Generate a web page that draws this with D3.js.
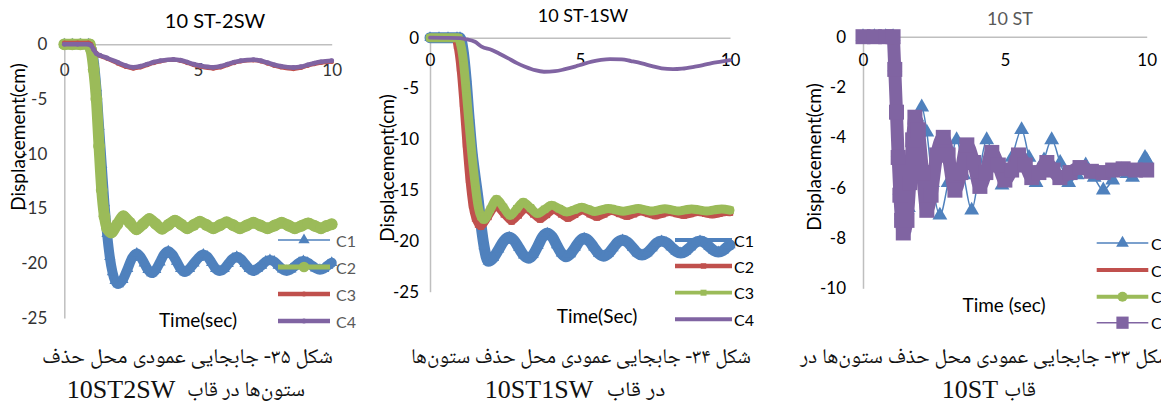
<!DOCTYPE html>
<html>
<head>
<meta charset="utf-8">
<script src="https://cdn.jsdelivr.net/npm/d3@7"></script>
<style>
  body { margin: 0; background: #fff; }
  svg { display: block; }
</style>
</head>
<body>
<svg id="chart" width="1161" height="407"></svg>
<script>
// ---- data: [time (s), displacement (cm)] ----
var xTicks = [0, 5, 10];
var yTicks25 = [0, -5, -10, -15, -20, -25];
var yTicks10 = [0, -2, -4, -6, -8, -10];
var seriesNames = ["C1", "C2", "C3", "C4"];

// 10 ST-2SW
var sw2C1 = [[0,0],[0.3,0],[0.6,0],[0.9,0],[1.0,-0.3],[1.1,-1.5],[1.2,-4.0],[1.3,-7.5],[1.4,-11.0],[1.5,-14.5],[1.6,-17.3],[1.7,-19.4],[1.8,-20.8],[1.9,-21.6],[2.02,-21.9],[2.19,-21.5],[2.37,-20.5],[2.54,-19.5],[2.71,-19.1],[2.85,-19.4],[2.99,-20.0],[3.13,-20.6],[3.27,-20.9],[3.42,-20.6],[3.58,-19.9],[3.73,-19.2],[3.89,-18.9],[4.04,-19.2],[4.2,-19.85],[4.35,-20.5],[4.51,-20.8],[4.68,-20.5],[4.85,-20.0],[5.02,-19.5],[5.2,-19.2],[5.35,-19.4],[5.51,-19.95],[5.66,-20.5],[5.82,-20.7],[5.98,-20.5],[6.13,-20.05],[6.29,-19.6],[6.45,-19.4],[6.6,-19.6],[6.76,-20.05],[6.92,-20.5],[7.07,-20.7],[7.22,-20.5],[7.38,-20.2],[7.53,-19.85],[7.69,-19.7],[7.85,-19.85],[8.0,-20.2],[8.16,-20.55],[8.32,-20.7],[8.47,-20.55],[8.63,-20.25],[8.78,-19.95],[8.94,-19.8],[9.1,-19.95],[9.25,-20.2],[9.4,-20.45],[9.56,-20.6],[9.7,-20.5],[9.85,-20.2],[10.0,-19.95]];
var sw2C2 = [[0,0],[0.3,0],[0.6,0],[0.95,0],[1.0,-0.5],[1.1,-2.3],[1.2,-5.0],[1.3,-9.3],[1.4,-13.3],[1.5,-15.7],[1.6,-16.8],[1.75,-17.2],[1.98,-16.45],[2.21,-15.7],[2.45,-16.3],[2.7,-16.9],[2.94,-16.43],[3.18,-15.95],[3.42,-16.4],[3.66,-16.85],[3.9,-16.48],[4.14,-16.1],[4.37,-16.45],[4.6,-16.8],[4.84,-16.5],[5.07,-16.2],[5.32,-16.5],[5.57,-16.8],[5.82,-16.53],[6.07,-16.25],[6.32,-16.53],[6.57,-16.8],[6.82,-16.55],[7.07,-16.3],[7.33,-16.55],[7.6,-16.8],[7.87,-16.55],[8.13,-16.3],[8.38,-16.55],[8.62,-16.8],[8.87,-16.58],[9.12,-16.35],[9.36,-16.58],[9.6,-16.8],[9.8,-16.6],[10.0,-16.44]];
var sw2C3 = [[0,0.15],[0.5,0.15],[0.9,0.15],[1.0,0],[1.1,-0.45],[1.2,-0.8],[1.33,-1.05],[1.6,-1.3],[2.0,-1.75],[2.3,-2.05],[2.58,-2.2],[2.85,-2.1],[3.1,-1.9],[3.35,-1.7],[3.6,-1.55],[4.08,-1.42],[4.35,-1.5],[4.6,-1.7],[4.85,-1.9],[5.1,-2.05],[5.57,-2.2],[5.85,-2.1],[6.1,-1.9],[6.35,-1.7],[6.6,-1.55],[7.07,-1.45],[7.35,-1.55],[7.6,-1.75],[7.85,-1.95],[8.1,-2.1],[8.57,-2.25],[8.85,-2.15],[9.1,-1.95],[9.35,-1.8],[9.6,-1.68],[10.0,-1.6]];
var sw2C4 = [[0,0],[0.5,0],[0.9,0],[1.0,-0.1],[1.1,-0.5],[1.2,-0.85],[1.33,-1.0],[1.6,-1.25],[2.0,-1.65],[2.3,-1.95],[2.58,-2.1],[2.85,-2.0],[3.1,-1.82],[3.35,-1.62],[3.6,-1.5],[4.08,-1.38],[4.35,-1.45],[4.6,-1.62],[4.85,-1.82],[5.1,-1.96],[5.57,-2.1],[5.85,-2.0],[6.1,-1.82],[6.35,-1.63],[6.6,-1.5],[7.07,-1.4],[7.35,-1.5],[7.6,-1.68],[7.85,-1.87],[8.1,-2.0],[8.57,-2.12],[8.85,-2.05],[9.1,-1.88],[9.35,-1.72],[9.6,-1.6],[10.0,-1.5]];

// 10 ST-1SW
var sw1C1 = [[0,0],[0.3,0],[0.6,0],[0.9,0],[1.0,0],[1.1,-1.2],[1.2,-4.0],[1.3,-7.8],[1.4,-11.2],[1.5,-13.6],[1.6,-15.8],[1.7,-18.4],[1.8,-20.5],[1.94,-22.0],[2.115,-21.66],[2.29,-20.83],[2.465,-19.99],[2.64,-19.65],[2.8,-19.95],[2.96,-20.68],[3.12,-21.4],[3.28,-21.7],[3.44,-21.34],[3.6,-20.48],[3.75,-19.61],[3.91,-19.25],[4.07,-19.59],[4.22,-20.4],[4.38,-21.21],[4.53,-21.55],[4.68,-21.29],[4.84,-20.65],[4.99,-20.01],[5.14,-19.75],[5.3,-20.01],[5.46,-20.63],[5.62,-21.24],[5.78,-21.5],[5.94,-21.27],[6.1,-20.7],[6.26,-20.13],[6.42,-19.9],[6.58,-20.12],[6.75,-20.65],[6.91,-21.18],[7.07,-21.4],[7.23,-21.2],[7.4,-20.7],[7.56,-20.2],[7.72,-20.0],[7.88,-20.18],[8.04,-20.6],[8.2,-21.02],[8.36,-21.2],[8.52,-21.02],[8.68,-20.6],[8.84,-20.18],[9.0,-20.0],[9.15,-20.16],[9.3,-20.55],[9.46,-20.94],[9.61,-21.1],[9.77,-20.94],[9.93,-20.55],[10.0,-20.4]];
var sw1C2 = [[0,0],[0.4,0],[0.83,0],[0.9,-0.8],[1.0,-3.0],[1.1,-6.5],[1.2,-10.5],[1.3,-14.0],[1.4,-16.5],[1.5,-17.8],[1.6,-18.4],[1.7,-18.6],[1.95,-17.65],[2.2,-16.7],[2.46,-17.4],[2.72,-18.1],[2.96,-17.5],[3.2,-16.9],[3.44,-17.4],[3.67,-17.9],[3.9,-17.45],[4.13,-17.0],[4.37,-17.4],[4.6,-17.8],[4.84,-17.43],[5.08,-17.05],[5.32,-17.38],[5.56,-17.7],[5.81,-17.4],[6.06,-17.1],[6.31,-17.35],[6.56,-17.6],[6.8,-17.38],[7.03,-17.15],[7.27,-17.35],[7.51,-17.55],[7.75,-17.38],[7.98,-17.2],[8.22,-17.35],[8.46,-17.5],[8.7,-17.35],[8.93,-17.2],[9.17,-17.33],[9.41,-17.45],[9.65,-17.33],[9.88,-17.2],[10.0,-17.22]];
var sw1C3 = [[0,0],[0.4,0],[0.95,0],[1.0,-0.4],[1.1,-2.0],[1.2,-5.0],[1.3,-8.4],[1.4,-11.6],[1.5,-14.3],[1.6,-16.5],[1.7,-17.6],[1.8,-17.9],[2.01,-16.9],[2.22,-15.9],[2.45,-16.7],[2.67,-17.5],[2.89,-16.85],[3.11,-16.2],[3.35,-16.75],[3.58,-17.3],[3.82,-16.9],[4.06,-16.5],[4.31,-16.83],[4.56,-17.15],[4.81,-16.93],[5.06,-16.7],[5.28,-16.9],[5.5,-17.1],[5.72,-16.95],[5.94,-16.8],[6.19,-16.94],[6.44,-17.08],[6.69,-16.95],[6.94,-16.82],[7.17,-16.94],[7.39,-17.06],[7.61,-16.95],[7.83,-16.84],[8.06,-16.95],[8.28,-17.05],[8.5,-16.95],[8.72,-16.85],[8.97,-16.95],[9.22,-17.05],[9.47,-16.95],[9.72,-16.85],[10.0,-16.98]];
var sw1C4 = [[0,0],[0.5,-0.02],[1.0,-0.05],[1.17,-0.13],[1.5,-0.4],[1.72,-0.88],[2.06,-1.2],[2.3,-1.55],[2.61,-2.03],[2.9,-2.5],[3.17,-2.85],[3.5,-3.2],[3.8,-3.35],[4.17,-3.3],[4.5,-3.1],[4.83,-2.85],[5.1,-2.6],[5.39,-2.36],[5.7,-2.18],[6.0,-2.1],[6.39,-2.13],[6.7,-2.3],[7.06,-2.52],[7.4,-2.8],[7.72,-3.02],[8.1,-3.1],[8.4,-3.05],[8.83,-2.85],[9.1,-2.7],[9.39,-2.5],[9.7,-2.35],[10.0,-2.2]];

// 10 ST
var stC1 = [[0,0],[0.4,0],[0.8,0],[1.06,0],[1.12,-1.2],[1.18,-2.9],[1.24,-4.6],[1.3,-6.1],[1.36,-7.1],[1.45,-7.6],[1.6,-6.8],[1.75,-4.6],[1.9,-3.2],[2.07,-2.8],[2.25,-3.8],[2.45,-5.8],[2.71,-7.1],[3.0,-5.8],[3.3,-4.1],[3.55,-5.5],[3.83,-6.9],[4.1,-5.4],[4.36,-4.1],[4.63,-5.0],[4.9,-5.9],[5.25,-4.8],[5.59,-3.7],[5.85,-4.8],[6.1,-5.8],[6.38,-4.9],[6.65,-4.1],[6.95,-5.0],[7.25,-5.8],[7.55,-5.5],[7.85,-5.1],[8.15,-5.6],[8.47,-6.1],[8.8,-5.7],[9.1,-5.3],[9.3,-5.45],[9.5,-5.6],[9.75,-5.2],[9.94,-4.8],[10.0,-4.9]];
var stC2 = [[0,0],[0.4,0],[0.8,0],[1.06,0],[1.12,-1.3],[1.18,-3.0],[1.24,-4.8],[1.3,-6.3],[1.36,-7.3],[1.42,-7.7],[1.55,-7.2],[1.7,-5.0],[1.84,-3.5],[2.0,-4.2],[2.15,-5.6],[2.3,-6.5],[2.5,-5.8],[2.7,-4.6],[2.86,-4.2],[3.05,-5.0],[3.25,-5.9],[3.45,-5.3],[3.68,-4.5],[3.9,-5.1],[4.13,-5.8],[4.35,-5.3],[4.56,-4.8],[4.8,-5.2],[5.02,-5.6],[5.25,-5.25],[5.5,-4.9],[5.73,-5.2],[5.96,-5.55],[6.2,-5.3],[6.49,-5.1],[6.73,-5.3],[6.97,-5.55],[7.3,-5.25],[7.65,-5.2],[8.05,-5.4],[8.47,-5.4],[8.8,-5.3],[9.17,-5.25],[9.6,-5.3],[10.0,-5.3]];
var stC3 = [[0,0],[0.4,0],[0.8,0],[1.06,0],[1.12,-1.3],[1.18,-3.0],[1.24,-4.8],[1.3,-6.3],[1.36,-7.3],[1.42,-7.8],[1.55,-7.4],[1.68,-5.6],[1.84,-3.4],[2.0,-4.4],[2.15,-6.0],[2.27,-6.8],[2.45,-6.0],[2.65,-4.6],[2.84,-4.1],[3.0,-4.8],[3.24,-6.0],[3.45,-5.2],[3.66,-4.4],[3.9,-5.2],[4.12,-5.9],[4.33,-5.2],[4.54,-4.7],[4.77,-5.2],[5.0,-5.65],[5.24,-5.2],[5.48,-4.8],[5.72,-5.2],[5.95,-5.6],[6.2,-5.3],[6.48,-5.05],[6.7,-5.3],[6.94,-5.6],[7.3,-5.3],[7.65,-5.2],[8.05,-5.35],[8.47,-5.4],[8.8,-5.3],[9.17,-5.25],[9.6,-5.3],[10.0,-5.3]];
var stC4 = [[0,0],[0.4,0],[0.8,0],[1.06,0],[1.12,-1.3],[1.18,-3.0],[1.24,-4.8],[1.3,-6.3],[1.36,-7.3],[1.42,-7.8],[1.55,-7.3],[1.65,-5.8],[1.75,-4.1],[1.83,-3.2],[1.95,-3.7],[2.1,-5.4],[2.25,-6.9],[2.4,-6.3],[2.6,-4.7],[2.83,-4.0],[3.0,-4.7],[3.24,-6.1],[3.45,-5.4],[3.66,-4.3],[3.9,-5.0],[4.12,-5.95],[4.33,-5.4],[4.54,-4.6],[4.77,-5.1],[5.0,-5.7],[5.24,-5.3],[5.48,-4.7],[5.72,-5.1],[5.95,-5.6],[6.2,-5.4],[6.48,-5.0],[6.7,-5.3],[6.94,-5.6],[7.3,-5.4],[7.65,-5.2],[8.05,-5.35],[8.47,-5.4],[8.8,-5.3],[9.17,-5.25],[9.6,-5.3],[10.0,-5.3]];

// captions (Persian)
var captionLine1 = ["شکل ۳۵- جابجایی عمودی محل حذف", "شکل ۳۴- جابجایی عمودی محل حذف ستون\u200cها", "شکل ۳۳- جابجایی عمودی محل حذف ستون\u200cها در"];
var captionLine2 = ["ستون\u200cها در قاب", "در قاب", "قاب"];
var captionFrame = ["10ST2SW", "10ST1SW", "10ST"];

// ---- drawing ----
var FONT = "Lato, 'Open Sans', sans-serif";
var BLUE = "#4f81bd", RED = "#c0504d", GREEN = "#9bbb59", PURPLE = "#8064a2";
var symbols = { triangle: d3.symbolTriangle, circle: d3.symbolCircle, square: d3.symbolSquare };

var svg = d3.select("#chart");

var panels = [
  {
    title: "10 ST-2SW", titleX: 215, titleY: 28, titleSize: 20, titleColor: "#000",
    xRange: [64.3, 331.7], yRange: [318, 44.3], yMin: -25, yTicks: yTicks25,
    yPad: 17, xPad: 20, tickSize: 17, tickColor: "#333",
    yLabelX: 17, yLabelY: 137, xLabel: "Time(sec)", xLabelX: 198, xLabelY: 327,
    legend: { x1: 278, x2: 330, tx: 336, ys: [240, 267, 294, 321], color: "#595959" },
    series: [
      { data: sw2C1, color: BLUE, lw: 10, marker: "triangle", ms: 55, legLw: 1.5, legMs: 55 },
      { data: sw2C2, color: GREEN, lw: 11, marker: "circle", ms: 110, legLw: 5, legMs: 90 },
      { data: sw2C3, color: RED, lw: 4, marker: "circle", ms: 16, legLw: 4.5, legMs: 20 },
      { data: sw2C4, color: PURPLE, lw: 4.5, marker: "circle", ms: 18, legLw: 4.5, legMs: 20 }
    ]
  },
  {
    title: "10 ST-1SW", titleX: 583, titleY: 22, titleSize: 18, titleColor: "#000",
    xRange: [430, 730], yRange: [291.7, 37.7], yMin: -25, yTicks: yTicks25,
    yPad: 11, xPad: 16, tickSize: 17, tickColor: "#000",
    yLabelX: 386, yLabelY: 168, xLabel: "Time(Sec)", xLabelX: 597, xLabelY: 323,
    legend: { x1: 675, x2: 732, tx: 734, ys: [240, 266, 292.7, 319.3], color: "#000" },
    series: [
      { data: sw1C1, color: BLUE, lw: 11, marker: "triangle", ms: 55, legLw: 4, legMs: 0 },
      { data: sw1C2, color: RED, lw: 7, marker: "square", ms: 40, legLw: 4.3, legMs: 30 },
      { data: sw1C3, color: GREEN, lw: 9, marker: "square", ms: 55, legLw: 3.8, legMs: 36 },
      { data: sw1C4, color: PURPLE, lw: 3.8, marker: null, ms: 0, legLw: 4, legMs: 0 }
    ]
  },
  {
    title: "10 ST", titleX: 1010, titleY: 25, titleSize: 18, titleColor: "#595959",
    xRange: [863, 1146.7], yRange: [288.3, 36.7], yMin: -10, yTicks: yTicks10,
    yPad: 17, xPad: 17, tickSize: 17, tickColor: "#000",
    yLabelX: 813.5, yLabelY: 157, xLabel: "Time (sec)", xLabelX: 1004, xLabelY: 312,
    legend: { x1: 1096.7, x2: 1148.3, tx: 1151, ys: [243, 270, 296.7, 322.7], color: "#000" },
    series: [
      { data: stC1, color: BLUE, lw: 1.5, marker: "triangle", ms: 95, legLw: 1.5, legMs: 70 },
      { data: stC2, color: RED, lw: 4, marker: null, ms: 0, legLw: 4, legMs: 0 },
      { data: stC3, color: GREEN, lw: 4, marker: "circle", ms: 80, legLw: 4, legMs: 80 },
      { data: stC4, color: PURPLE, lw: 13, marker: "square", ms: 225, legLw: 1.5, legMs: 150 }
    ]
  }
];

function drawPanel(p) {
  var x = d3.scaleLinear().domain([0, 10]).range(p.xRange);
  var y = d3.scaleLinear().domain([p.yMin, 0]).range(p.yRange);
  var g = svg.append("g");

  var yAxis = g.append("g")
      .attr("transform", "translate(" + x(0) + ",0)")
      .call(d3.axisLeft(y).tickValues(p.yTicks).tickSize(0).tickSizeOuter(0)
        .tickPadding(p.yPad).tickFormat(d => String(d)));
  var xAxis = g.append("g")
      .attr("transform", "translate(0," + y(0) + ")")
      .call(d3.axisBottom(x).tickValues(xTicks).tickSize(0).tickSizeOuter(0)
        .tickPadding(p.xPad).tickFormat(d => String(d)));
  [yAxis, xAxis].forEach(function (a) {
    a.attr("font-family", FONT).attr("font-size", p.tickSize);
    a.select(".domain").attr("stroke", "#bfbfbf").attr("stroke-width", 1.5);
    a.selectAll("text").attr("fill", p.tickColor);
  });

  var line = d3.line()
      .x(d => x(d[0]))
      .y(d => y(d[1]))
      .curve(d3.curveMonotoneX);

  p.series.forEach(function (s) {
    g.append("path")
        .attr("d", line(s.data))
        .attr("fill", "none")
        .attr("stroke", s.color)
        .attr("stroke-width", s.lw)
        .attr("stroke-linejoin", "round")
        .attr("stroke-linecap", "round");
    if (s.marker) {
      g.append("g").selectAll("path")
        .data(s.data)
        .enter().append("path")
        .attr("transform", d => "translate(" + x(d[0]) + "," + y(d[1]) + ")")
        .attr("d", d3.symbol().type(symbols[s.marker]).size(s.ms))
        .attr("fill", s.color);
    }
  });

  // titles
  g.append("text")
      .attr("x", p.titleX).attr("y", p.titleY)
      .attr("text-anchor", "middle")
      .attr("font-family", FONT).attr("font-size", p.titleSize)
      .attr("fill", p.titleColor)
      .text(p.title);

  g.append("text")
      .attr("transform", "translate(" + p.yLabelX + "," + p.yLabelY + ") rotate(-90)")
      .attr("text-anchor", "middle")
      .attr("dominant-baseline", "central")
      .attr("font-family", FONT).attr("font-size", 19)
      .attr("fill", "#000")
      .text("Displacement(cm)");

  g.append("text")
      .attr("x", p.xLabelX).attr("y", p.xLabelY)
      .attr("text-anchor", "middle")
      .attr("font-family", FONT).attr("font-size", 19)
      .attr("fill", "#000")
      .text(p.xLabel);

  // legend
  var lg = p.legend;
  p.series.forEach(function (s, i) {
    var ly = lg.ys[i];
    g.append("line")
        .attr("x1", lg.x1).attr("x2", lg.x2)
        .attr("y1", ly).attr("y2", ly)
        .attr("stroke", s.color)
        .attr("stroke-width", s.legLw);
    if (s.marker && s.legMs > 0) {
      g.append("path")
          .attr("transform", "translate(" + (lg.x1 + lg.x2) / 2 + "," + ly + ")")
          .attr("d", d3.symbol().type(symbols[s.marker]).size(s.legMs))
          .attr("fill", s.color);
    }
    g.append("text")
        .attr("x", lg.tx).attr("y", ly)
        .attr("dominant-baseline", "central")
        .attr("font-family", FONT).attr("font-size", 16)
        .attr("fill", lg.color)
        .text(seriesNames[i]);
  });
}

panels.forEach(drawPanel);

// captions
var capLayout = [
  { c1: 187.5, w1: 291, a2: 246, aw2: 118, l2: 121 },
  { c1: 581, w1: 340, a2: 636, aw2: 59, l2: 539 },
  { c1: 986, w1: 372, a2: 1020, aw2: 32, l2: 970 }
];
var ARABIC = "'Noto Naskh Arabic', 'Noto Sans Arabic', 'DejaVu Sans', sans-serif";
capLayout.forEach(function (c, i) {
  svg.append("text")
      .attr("x", c.c1).attr("y", 363)
      .attr("text-anchor", "middle")
      .attr("direction", "rtl")
      .attr("font-family", ARABIC).attr("font-size", 21)
      .attr("textLength", c.w1).attr("lengthAdjust", "spacingAndGlyphs")
      .attr("fill", "#111")
      .text(captionLine1[i]);
  svg.append("text")
      .attr("x", c.a2).attr("y", 396)
      .attr("text-anchor", "middle")
      .attr("direction", "rtl")
      .attr("font-family", ARABIC).attr("font-size", 21)
      .attr("textLength", c.aw2).attr("lengthAdjust", "spacingAndGlyphs")
      .attr("fill", "#111")
      .text(captionLine2[i]);
  svg.append("text")
      .attr("x", c.l2).attr("y", 398)
      .attr("text-anchor", "middle")
      .attr("font-family", "'Liberation Serif', 'Times New Roman', serif").attr("font-size", 26)
      .attr("fill", "#111")
      .text(captionFrame[i]);
});
</script>
</body>
</html>
